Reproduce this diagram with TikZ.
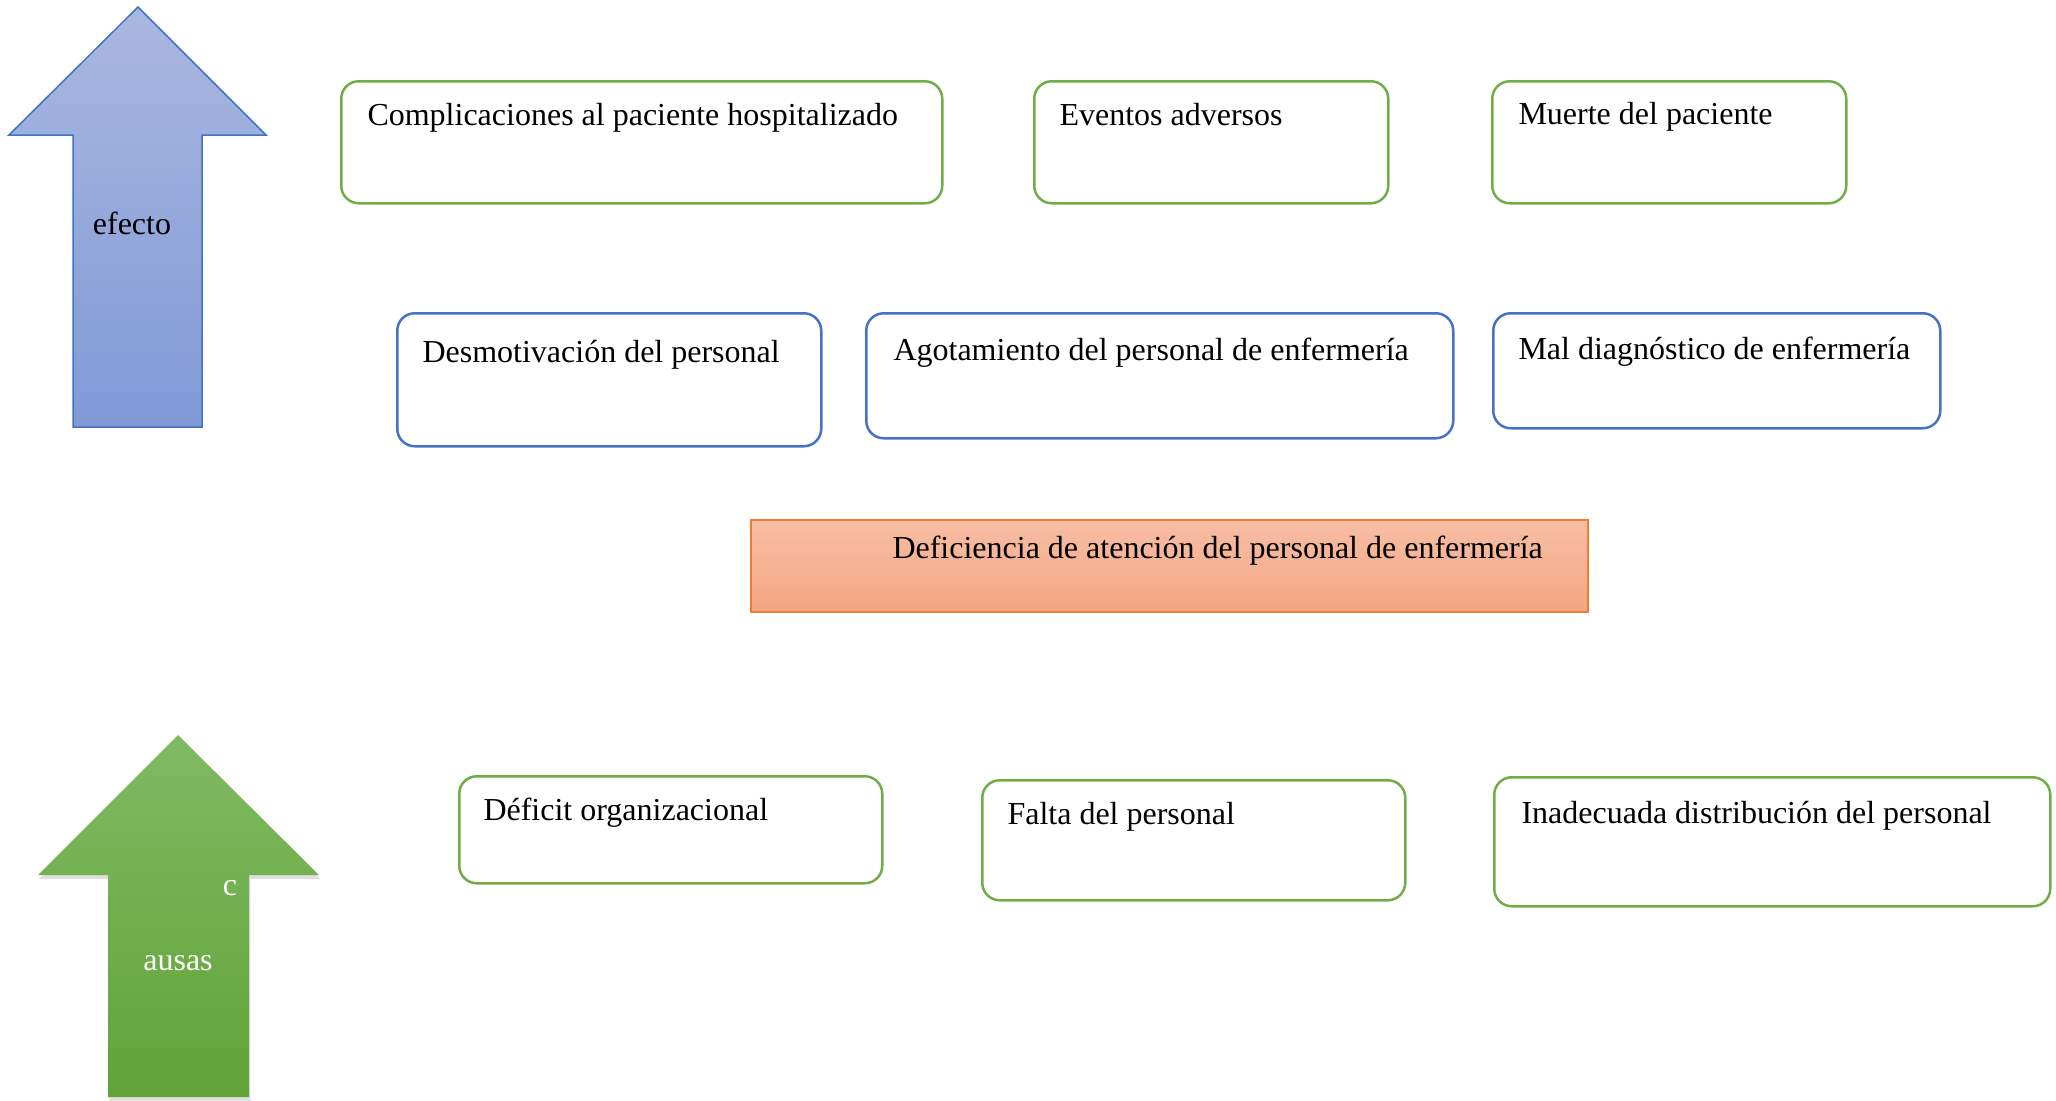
\documentclass[tikz,border=0pt]{standalone}
\usepackage{fontspec}
\setmainfont{Liberation Serif}
\usetikzlibrary{shadows}
\definecolor{effgreen}{HTML}{70AD47}
\definecolor{effblue}{HTML}{4472C4}
\definecolor{probline}{HTML}{ED7D31}
\tikzset{
  boxbase/.style={draw,line width=1pt,rounded corners=7pt,anchor=north west,inner sep=0pt,fill=white},
  greenbox/.style={boxbase,draw=effgreen},
  bluebox/.style={boxbase,draw=effblue},
  probbox/.style={draw=probline,line width=0.6pt,anchor=north west,inner sep=0pt,
    top color={rgb,255:red,247;green,190;blue,165},bottom color={rgb,255:red,244;green,166;blue,131}},
  boxtext/.style={anchor=west,inner sep=0pt,font=\fontsize{12.8pt}{15pt}\selectfont},
  arrowtext/.style={inner sep=0pt,font=\fontsize{12.8pt}{15pt}\selectfont}
}
\begin{document}
\begin{tikzpicture}[x=0.4pt,y=-0.4pt]
  \useasboundingbox (0,0) rectangle (2056,1101);
  % efecto arrow
  \path[draw=effblue,line width=0.6pt,top color={rgb,255:red,169;green,184;blue,224},
    bottom color={rgb,255:red,128;green,153;blue,214}]
    (138,7) -- (266,135) -- (202,135) -- (202,427) -- (73,427) -- (73,135) -- (9,135) -- cycle;
  \node[arrowtext] (efecto) at (132,223) {efecto};
  % causas arrow
  \path[drop shadow={shadow xshift=0.5pt,shadow yshift=-1.5pt,opacity=0.25},
    top color={rgb,255:red,128;green,186;blue,99},bottom color={rgb,255:red,97;green,163;blue,55}]
    (178,735) -- (319,875) -- (249,875) -- (249,1097) -- (108,1097) -- (108,875) -- (38,875) -- cycle;
  \node[arrowtext,text=white] (causasc) at (230,888) {c};
  \node[arrowtext,text=white] (causas) at (178,963) {ausas};
  % efectos
  \node[greenbox,minimum width=240.4pt,minimum height=48.8pt] (ef1) at (340,80) {};
  \node[boxtext] (ef1t) at ([shift={(27,38)}]ef1.north west) {Complicaciones al paciente hospitalizado};
  \node[greenbox,minimum width=141.6pt,minimum height=48.8pt] (ef2) at (1033,80) {};
  \node[boxtext] (ef2t) at ([shift={(26,35)}]ef2.north west) {Eventos adversos};
  \node[greenbox,minimum width=141.6pt,minimum height=48.8pt] (ef3) at (1491,80) {};
  \node[boxtext] (ef3t) at ([shift={(27,37)}]ef3.north west) {Muerte del paciente};
  \node[bluebox,minimum width=169.6pt,minimum height=53.2pt] (ef4) at (396,312) {};
  \node[boxtext] (ef4t) at ([shift={(26,43)}]ef4.north west) {Desmotivación del personal};
  \node[bluebox,minimum width=234.8pt,minimum height=50pt] (ef5) at (865,312) {};
  \node[boxtext] (ef5t) at ([shift={(28,41)}]ef5.north west) {Agotamiento del personal de enfermería};
  \node[bluebox,minimum width=178.8pt,minimum height=46pt] (ef6) at (1492,312) {};
  \node[boxtext] (ef6t) at ([shift={(26,40)}]ef6.north west) {Mal diagnóstico de enfermería};
  % problema
  \node[probbox,minimum width=334.8pt,minimum height=36.8pt] (prob) at (750,519) {};
  \node[boxtext] (probt) at ([shift={(142,32)}]prob.north west) {Deficiencia de atención del personal de enfermería};
  % causas
  \node[greenbox,minimum width=169.2pt,minimum height=42.8pt] (ca1) at (458,775) {};
  \node[boxtext] (ca1t) at ([shift={(25,38)}]ca1.north west) {Déficit organizacional};
  \node[greenbox,minimum width=169.2pt,minimum height=48pt] (ca2) at (981,779) {};
  \node[boxtext] (ca2t) at ([shift={(26,38)}]ca2.north west) {Falta del personal};
  \node[greenbox,minimum width=222.4pt,minimum height=51.6pt] (ca3) at (1493,776) {};
  \node[boxtext] (ca3t) at ([shift={(28,40)}]ca3.north west) {Inadecuada distribución del personal};
\end{tikzpicture}
\end{document}
